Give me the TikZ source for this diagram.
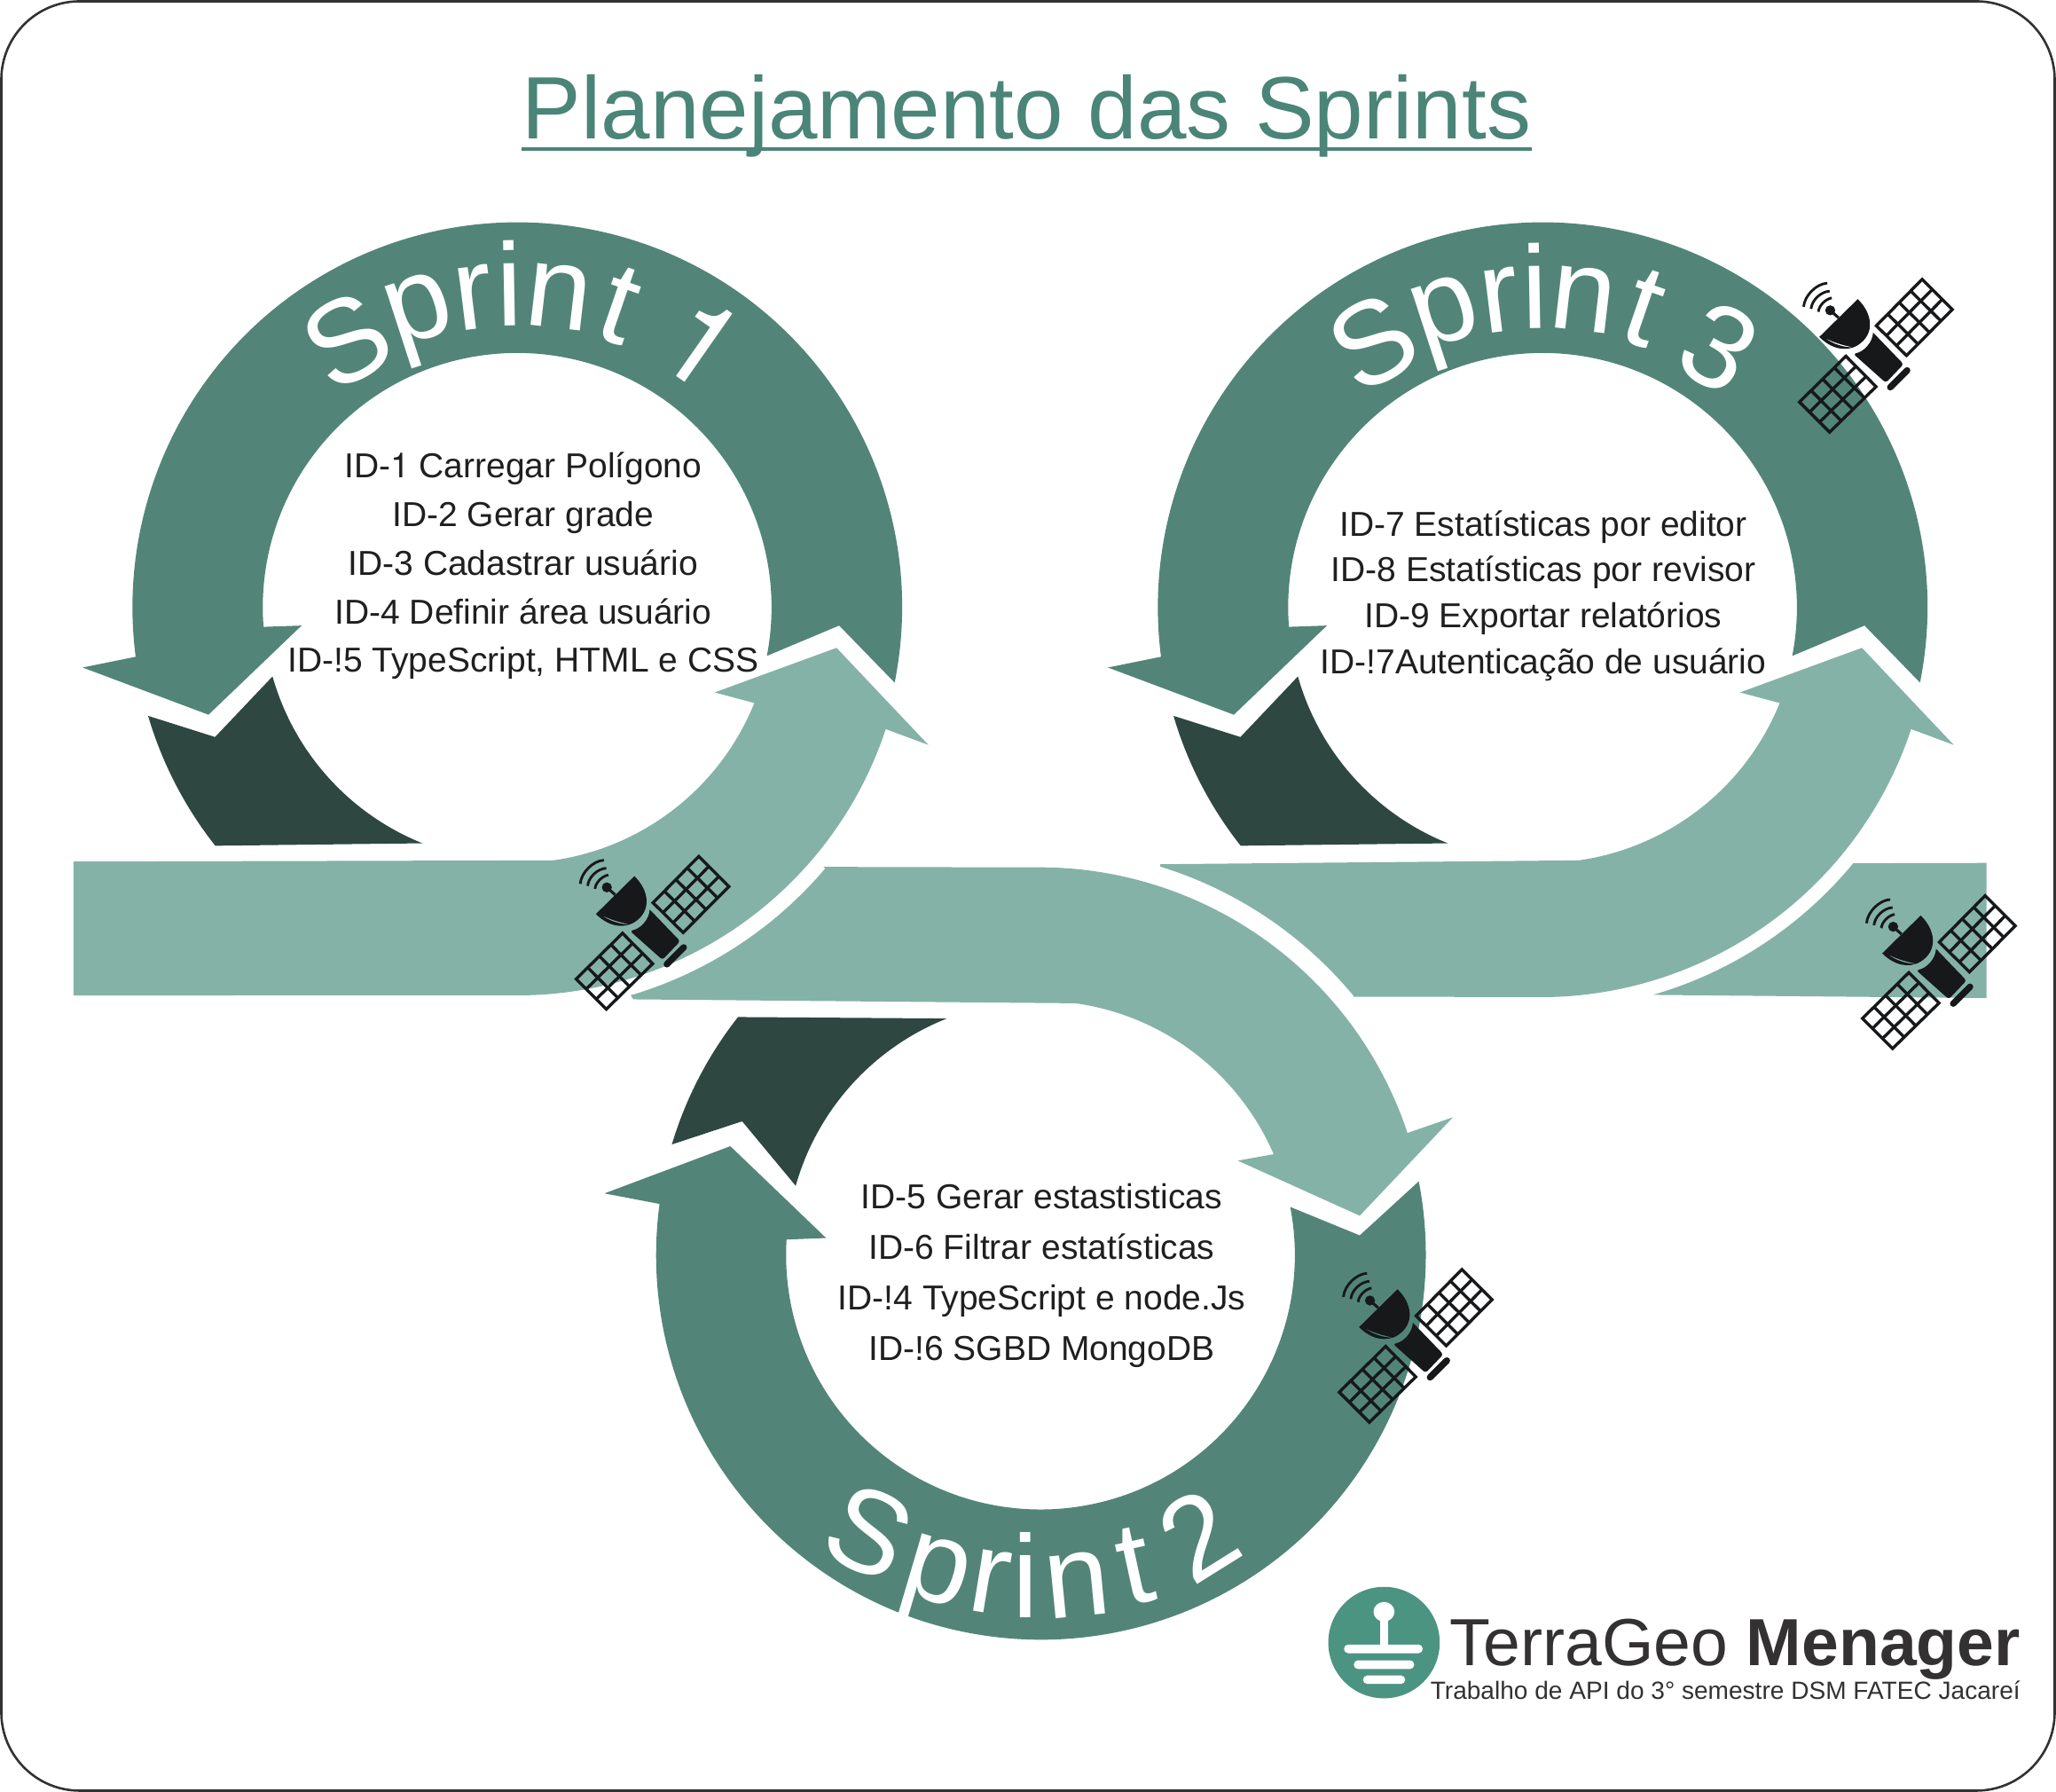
\documentclass[tikz,border=0pt]{standalone}
\usepackage{fontspec}
\setmainfont{Liberation Sans}
\newfontfamily\heros{TeX Gyre Heros}
\usetikzlibrary{calc}
\definecolor{tealmid}{HTML}{528578}
\definecolor{tealdark}{HTML}{2E4741}
\definecolor{teallight}{HTML}{84B2A7}
\definecolor{titlegreen}{HTML}{4A8577}
\definecolor{logogreen}{HTML}{4C9482}
\definecolor{logotext}{HTML}{333132}
\definecolor{satblack}{HTML}{16181A}
\newcommand{\fs}[1]{\fontsize{#1}{#1}\selectfont}
% letter on a ring: name, centre, radius, angle from the vertical, rotation, glyph
\newcommand{\upletter}[7]{\node[sprintletter,rotate=#6] (#1) at ({#2+#4*sin(#5)},{#3-#4*cos(#5)}) {#7};}
\newcommand{\downletter}[7]{\node[sprintletter,rotate=#6] (#1) at ({#2+#4*sin(#5)},{#3+#4*cos(#5)}) {#7};}
\tikzset{
  midarrow/.style={fill=tealmid},
  darkpiece/.style={fill=tealdark},
  lightarrow/.style={fill=teallight},
  sprintletter/.style={font=\fs{25.5},text=white,inner sep=0pt,anchor=base},
  listline/.style={font=\fs{7.5},text=black!88,inner sep=0pt,anchor=base},
  panel/.style={draw=satblack,line width=0.65pt,line join=miter},
  satellite/.pic={
    \begin{scope}[scale=0.2255]
      \coordinate (a) at (408,352); \coordinate (b) at (563,195);
      \coordinate (c) at (665,297); \coordinate (d) at (510,453);
      \draw[panel] (a)--(b)--(c)--(d)--cycle;
      \foreach \t in {0.25,0.5,0.75} \draw[panel] ($(a)!\t!(b)$)--($(d)!\t!(c)$);
      \foreach \t in {0.3333,0.6667} \draw[panel] ($(a)!\t!(d)$)--($(b)!\t!(c)$);
      \coordinate (e) at (148,610); \coordinate (f) at (305,455);
      \coordinate (g) at (407,558); \coordinate (h) at (250,712);
      \draw[panel] (e)--(f)--(g)--(h)--cycle;
      \foreach \t in {0.25,0.5,0.75} \draw[panel] ($(e)!\t!(f)$)--($(h)!\t!(g)$);
      \foreach \t in {0.3333,0.6667} \draw[panel] ($(e)!\t!(h)$)--($(f)!\t!(g)$);
      \fill[satblack,even odd rule] (345,262) .. controls (395,310) and (405,380) .. (345,418)
         .. controls (305,442) and (255,430) .. (215,390) -- cycle
         (232,392) .. controls (262,415) and (300,426) .. (330,425)
         .. controls (290,418) and (255,405) .. (232,392) -- cycle;
      \fill[satblack,rounded corners=0.6pt] (397,375) -- (500,482) -- (440,545) -- (330,447)
         [sharp corners] .. controls (365,440) and (395,410) .. (397,375) -- cycle;
      \draw[satblack,line width=1.4pt,line cap=round] (512,503) -- (455,560);
      \draw[satblack,line width=0.6pt] (280,325) -- (252,300);
      \fill[satblack] (252,300) circle (17);
      \draw[satblack,line width=0.55pt] (212,305) .. controls (213,285) and (235,262) .. (257,258);
      \draw[satblack,line width=0.55pt] (187,295) .. controls (190,265) and (220,237) .. (250,235);
      \draw[satblack,line width=0.55pt] (162,288) .. controls (165,250) and (205,210) .. (242,208);
    \end{scope}
  },
  ringtop/.pic={
    % mid-tone arrow running over the top, and the dark stub under it
    \fill[midarrow] (11.3:293.5) arc[start angle=11.3,end angle=-187.4,radius=293.5]
       -- (-331.5,46) -- (-235.5,82) -- (-164.5,14) -- (-193.5,15)
       arc[start angle=-184.4,end angle=11,radius=194]
       -- (245.5,14) -- cycle;
    \fill[darkpiece] (163.6:293.5) arc[start angle=163.6,end angle=141.7,radius=293.5]
       -- (111.9:194) arc[start angle=111.9,end angle=164.2,radius=194]
       -- (-230.5,99) -- cycle;
  }
}
\begin{document}
\begin{tikzpicture}[x=0.01cm,y=0.01cm,yscale=-1]
\useasboundingbox (0,0) rectangle (1568,1366.4);
\fill[white] (0,0) rectangle (1568,1366.4);
\draw[draw=logotext,line width=0.5pt,rounded corners=17pt,fill=white] (1,1) rectangle (1567,1365.4);

\coordinate (c1) at (394.5,463);
\coordinate (c2) at (793.5,957);
\coordinate (c3) at (1176.5,463);

% title
\node[font=\fs{19.2},text=titlegreen,inner sep=0pt,anchor=base] (title) at (783,106) {Planejamento das Sprints};
\draw[titlegreen,line width=0.85pt] (398,113.5) -- (1168,113.5);

% Sprint 1 ring
\pic[transform shape] at (c1) {ringtop};
\begin{scope}[shift={(c1)}]
  \fill[lightarrow] (-338.5,194) -- (81.9:195) arc[start angle=81.9,end angle=22,radius=195]
     -- (150.5,65) -- (243.5,31) -- (313.5,105) -- (18.3:296)
     arc[start angle=18.3,end angle=88.9,radius=296] -- (-338.5,296) -- cycle;
\end{scope}

% Sprint 3 ring
\pic[transform shape] at (c3) {ringtop};
\begin{scope}[shift={(c3)}]
  \fill[lightarrow] (-291.5,196) -- (81.9:195) arc[start angle=81.9,end angle=22,radius=195]
     -- (150.5,65) -- (243.5,31) -- (313.5,105) -- (18.3:296)
     arc[start angle=18.3,end angle=88.9,radius=298]
     -- (-144.5,297) -- ($(c2)-(c3)+(-39.6:310)$) arc[start angle=-39.6,end angle=-72.9,radius=310] -- cycle;
  \fill[lightarrow] (338.5,195) -- (39.5:307) arc[start angle=39.5,end angle=73.9,radius=309]
     -- (338.5,298) -- cycle;
\end{scope}

% Sprint 2 ring
\begin{scope}[shift={(c2)}]
  \fill[midarrow] (-10.9:194) arc[start angle=-10.9,end angle=183.5,radius=194]
     -- (-163.5,-13) -- (-236.5,-83) -- (-332.5,-47) -- (-290.5,-39)
     arc[start angle=187.6,end angle=-11,radius=293.5]
     -- (243.5,-15) -- cycle;
  \fill[darkpiece] (196.7:293.5) arc[start angle=196.7,end angle=218.2,radius=293.5]
     -- (248.4:194) arc[start angle=248.4,end angle=195.8,radius=194]
     -- (-227.5,-102) -- cycle;
  \fill[lightarrow] (-310.5,-195) -- (26.5,-192) arc[start angle=-82.1,end angle=-23.4,radius=194]
     -- (150.5,-72) -- (243.5,-30) -- (314.5,-105) -- (-18.4:295)
     arc[start angle=-18.4,end angle=-88.7,radius=296]
     -- (-165.5,-296) -- ($(c1)-(c2)+(40.3:308)$) arc[start angle=40.3,end angle=73.5,radius=310] -- cycle;
\end{scope}

% Sprint lettering
\upletter{sa}{394.5}{463}{210.5}{-33}{30}{S}
\upletter{sb}{394.5}{463}{216}{-18.3}{18}{p}
\upletter{sc}{394.5}{463}{214}{-8.1}{7}{r}
\upletter{sd}{394.5}{463}{214.4}{-1.4}{1}{i}
\upletter{se}{394.5}{463}{214.6}{7.7}{-6.6}{n}
\upletter{sf}{394.5}{463}{214}{18.8}{-19}{t}
\upletter{sg}{394.5}{463}{214}{35}{-35}{{\heros 1}}

\upletter{ta}{1176.5}{463}{209}{-33}{30}{S}
\upletter{tb}{1176.5}{463}{214}{-18.3}{18}{p}
\upletter{tc}{1176.5}{463}{212}{-8.1}{7}{r}
\upletter{td}{1176.5}{463}{212.4}{-1.4}{1}{i}
\upletter{te}{1176.5}{463}{212.6}{7.7}{-6.6}{n}
\upletter{tf}{1176.5}{463}{212}{18.8}{-19}{t}
\upletter{tg}{1176.5}{463}{209}{34.7}{-30}{3}

\downletter{ua}{793.5}{957}{279}{-31}{-25}{S}
\downletter{ub}{793.5}{957}{277}{-17.9}{-16.5}{p}
\downletter{uc}{793.5}{957}{276}{-8.8}{-9.4}{r}
\downletter{ud}{793.5}{957}{276.8}{-2.3}{0}{i}
\downletter{ue}{793.5}{957}{277}{6.3}{5.6}{n}
\downletter{uf}{793.5}{957}{276}{16.4}{12.3}{t}
\downletter{ug}{793.5}{957}{277}{29.7}{32}{2}

% lists
\node[listline] (l1a) at (399,364.5) {ID-{\heros 1} Carregar Polígono};
\node[listline] (l1b) at (399,401.7) {ID-2 Gerar grade};
\node[listline] (l1c) at (399,438.7) {ID-3 Cadastrar usuário};
\node[listline] (l1d) at (399,475.7) {ID-4 Definir área usuário};
\node[listline] (l1e) at (399,512.7) {ID-!5 TypeScript, HTML e CSS};

\node[listline] (l3a) at (1177,408.7) {ID-7 Estatísticas por editor};
\node[listline] (l3b) at (1177,443.7) {ID-8 Estatísticas por revisor};
\node[listline] (l3c) at (1177,478.7) {ID-9 Exportar relatórios};
\node[listline] (l3d) at (1177,513.7) {ID-!7Autenticação de usuário};

\node[listline] (l2a) at (794.5,921.7) {ID-5 Gerar estastisticas};
\node[listline] (l2b) at (794.5,960.5) {ID-6 Filtrar estatísticas};
\node[listline] (l2c) at (794.5,998.7) {ID-!4 TypeScript e node.Js};
\node[listline] (l2d) at (794.5,1037.5) {ID-!6 SGBD MongoDB};

% satellites
\pic[transform shape] at (406,609) {satellite};
\pic[transform shape] at (988,924) {satellite};
\pic[transform shape] at (1339,169) {satellite};
\pic[transform shape] at (1387,639) {satellite};

% logo
\fill[logogreen] (1055.5,1252.5) circle (42.5);
\fill[white] (1055.5,1229) ellipse (8 and 7.5);
\fill[white] (1052.6,1232) rectangle (1058.8,1256);
\fill[white,rounded corners=0.9pt] (1025,1254) rectangle (1085,1260.6);
\fill[white,rounded corners=0.9pt] (1032.5,1266) rectangle (1078.5,1272.7);
\fill[white,rounded corners=0.9pt] (1039.5,1277.6) rectangle (1071.7,1284);
\node[font=\fs{14.45},text=logotext,inner sep=0pt,anchor=base east] (brand) at (1541.5,1270) {TerraGeo \textbf{Menager}};
\node[font=\fs{5.4},text=logotext,inner sep=0pt,anchor=base east] (tagline) at (1541.5,1296) {Trabalho de API do 3° semestre DSM FATEC Jacareí};
\end{tikzpicture}
\end{document}
